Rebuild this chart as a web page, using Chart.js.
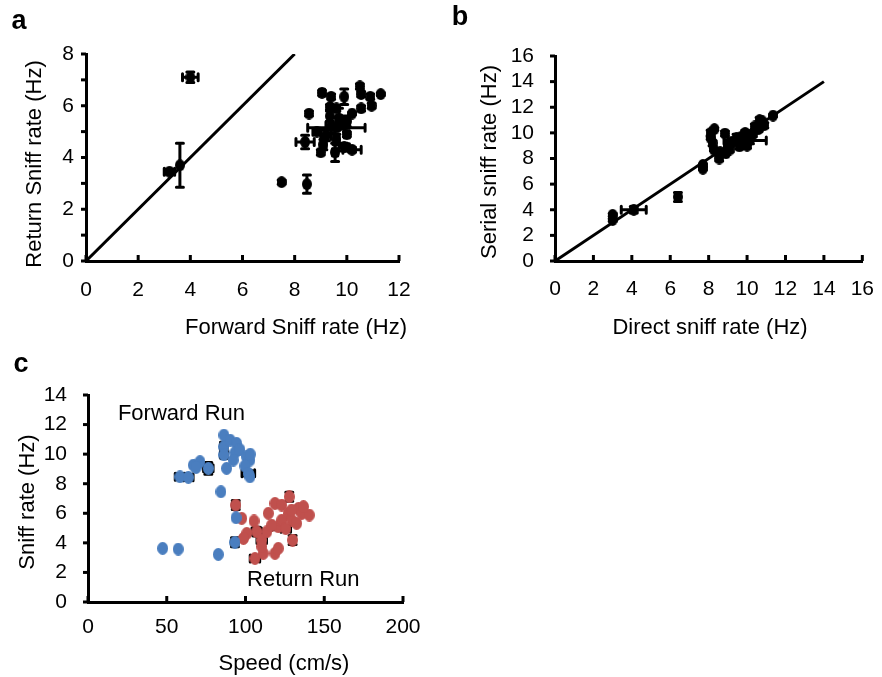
<!DOCTYPE html>
<html>
<head>
<meta charset="utf-8">
<script src="https://cdn.jsdelivr.net/npm/chart.js@4.4.1/dist/chart.umd.min.js"></script>
<style>
  body { margin: 0; background: #fff; width: 882px; height: 677px; position: relative; overflow: hidden; }
  canvas { position: absolute; }
</style>
</head>
<body>
<canvas id="chartA" width="440" height="340" style="left:0;top:0"></canvas>
<canvas id="chartB" width="442" height="340" style="left:440px;top:0"></canvas>
<canvas id="chartC" width="440" height="337" style="left:0;top:340px"></canvas>
<script>
// Panel a: forward vs return sniff rate (Hz)
const fwdRate = [4.0, 3.6, 3.2, 7.5, 8.47, 8.4, 8.55, 9.05, 9.4, 9.9, 10.5, 10.55, 10.9, 11.3, 10.95, 10.55, 10.2, 9.4, 9.35, 9.7, 9.6, 9.1, 9.55, 9.9, 9.0, 10.0, 9.2, 8.85, 9.6, 9.35, 10.2, 9.8, 9.6, 10.0];
const retRate = [7.1, 3.7, 3.45, 3.05, 2.97, 4.6, 5.7, 6.5, 6.35, 6.35, 6.75, 6.45, 6.35, 6.45, 6.0, 5.9, 5.7, 5.25, 5.6, 5.5, 5.15, 4.5, 4.2, 4.4, 4.2, 4.9, 4.85, 5.0, 5.9, 5.95, 4.3, 5.3, 4.7, 5.4];
const fwdRateErr = [0.3, 0, 0.2, 0, 0, 0.35, 0, 0.1, 0, 0, 0, 0, 0, 0, 0, 0, 0, 0.2, 0, 0.1, 1.1, 0.1, 0.1, 0.2, 0, 0.1, 0.2, 0.15, 0, 0, 0.35, 0.1, 0.1, 0.1];
const retRateErr = [0.2, 0.85, 0.1, 0.08, 0.35, 0.26, 0.1, 0.1, 0.1, 0.3, 0.1, 0.1, 0.1, 0.05, 0.1, 0.1, 0.05, 0.3, 0.2, 0.4, 0.1, 0.2, 0.35, 0.15, 0.1, 0.1, 0.2, 0.1, 0.1, 0.1, 0.1, 0.2, 0.2, 0.2];
const unityA = [0, 8];

// Panel b: direct vs serial sniff rate (Hz)
const directRate = [3.0, 3.0, 4.1, 6.4, 7.7, 7.7, 8.1, 8.1, 8.3, 8.2, 8.27, 8.55, 8.85, 9.1, 9.45, 9.6, 9.9, 10.15, 10.4, 10.65, 10.9, 11.35, 9.9, 8.6, 9.2, 9.7, 10.3, 10.6, 9.0, 10.0, 8.9, 10.8];
const serialRate = [3.6, 3.2, 4.0, 5.0, 7.5, 7.2, 10.0, 9.6, 10.3, 9.2, 8.7, 8.0, 9.95, 8.7, 9.6, 8.95, 10.0, 9.45, 10.5, 11.0, 10.6, 11.35, 9.4, 8.5, 9.3, 9.7, 9.9, 10.3, 9.0, 9.0, 8.4, 10.9];
const directErr = [0, 0, 0.65, 0, 0, 0, 0, 0, 0, 0, 0, 0, 0, 0, 0.1, 0.1, 0, 0, 0, 0, 0, 0, 1.1, 0.2, 0.2, 0, 0, 0, 0.1, 0, 0, 0];
const serialErr = [0.1, 0.1, 0.25, 0.35, 0.1, 0.1, 0.2, 0.1, 0.1, 0.2, 0.1, 0.2, 0.2, 0.2, 0.3, 0.2, 0.2, 0.3, 0.2, 0.2, 0.2, 0.1, 0.1, 0.2, 0.2, 0.2, 0.2, 0.2, 0.1, 0.2, 0.1, 0.1];
const unityB = [0, 14];

// Panel c: speed (cm/s) vs sniff rate (Hz)
const fwdSpeed = [47.4, 57.3, 82.7, 93.3, 94, 84.4, 58.4, 63.7, 66.9, 71.1, 68.6, 76.4, 88.0, 86.3, 86.3, 86.3, 90.2, 94.4, 93.3, 96.5, 100.7, 102.8, 99.6, 101.8, 102.8, 103, 92.2];
const fwdSniff = [3.63, 3.58, 3.22, 4.04, 5.7, 7.46, 8.47, 8.43, 9.26, 9.49, 9.1, 9.04, 9.04, 11.29, 10.5, 9.95, 10.95, 10.73, 10.1, 10.3, 9.83, 9.6, 9.2, 8.7, 8.47, 10.0, 9.6];
const fwdSpeedErr = [0, 0, 0, 2, 0, 0, 3, 3, 0, 0, 0, 3, 0, 0, 2, 2, 0, 0, 0, 0, 0, 0, 0, 4, 0, 0, 0];
const fwdSniffErr = [0, 0, 0, 0.3, 0, 0, 0.2, 0.2, 0, 0, 0, 0.4, 0, 0, 0.3, 0.2, 0, 0, 0, 0, 0, 0, 0, 0.2, 0, 0, 0];
const retSpeed = [93.8, 97.6, 105.4, 100.8, 98.7, 107.1, 110.3, 113.5, 106, 111.3, 110.3, 118.7, 120.8, 114.5, 118.7, 123, 127.8, 120.8, 123, 127.2, 129.3, 133.6, 135.7, 140.5, 132.5, 129.9, 116.6, 125.6, 129.3, 136.8];
const retSniff = [6.56, 5.66, 5.48, 4.64, 4.3, 4.76, 4.19, 4.75, 2.95, 3.29, 3.75, 3.29, 3.63, 6.0, 6.67, 6.56, 7.12, 5.09, 5.54, 5.99, 5.54, 6.33, 5.99, 5.88, 5.32, 4.19, 5.2, 4.96, 6.22, 6.45];
const retSpeedErr = [2, 0, 0, 0, 0, 3, 3, 0, 3, 0, 0, 0, 0, 0, 0, 0, 0, 4, 0, 0, 0, 0, 0, 0, 0, 0, 0, 3, 0, 0];
const retSniffErr = [0.3, 0, 0, 0, 0, 0.3, 0.2, 0, 0.2, 0, 0, 0, 0, 0, 0, 0, 0.3, 0.2, 0, 0, 0, 0, 0, 0, 0, 0.3, 0, 0.2, 0, 0];
const runLabels = ['Forward Run', 'Return Run'];
const runLabelX = [19, 101];
const runLabelY = [12.7, 1.5];

const FONT = '"Liberation Sans", Arial, sans-serif';

function pts(xs, ys) {
    return xs.map((v, i) => ({ x: v, y: ys[i] }));
}

// ellipse marker, slightly taller than wide like the original
function makeDot(color, w, h) {
    const c = document.createElement('canvas');
    c.width = w; c.height = h;
    const g = c.getContext('2d');
    g.fillStyle = color;
    g.beginPath();
    g.ellipse(w / 2, h / 2, w / 2, h / 2, 0, 0, Math.PI * 2);
    g.fill();
    return c;
}

// error bars with caps, drawn under the markers
const errorBars = {
    id: 'errorBars',
    beforeDatasetsDraw(chart) {
        const { ctx, scales: { x, y } } = chart;
        ctx.save();
        ctx.strokeStyle = '#000';
        ctx.lineCap = 'round';
        chart.data.datasets.forEach(ds => {
            if (!ds.errX) return;
            ds.data.forEach((p, i) => {
                const px = x.getPixelForValue(p.x);
                const py = y.getPixelForValue(p.y);
                const ex = ds.errX[i], ey = ds.errY[i];
                ctx.lineWidth = 3;
                ctx.beginPath();
                if (ex > 0) {
                    const l = x.getPixelForValue(p.x - ex), r = x.getPixelForValue(p.x + ex);
                    ctx.moveTo(l, py); ctx.lineTo(r, py);
                    ctx.moveTo(l, py - 3.5); ctx.lineTo(l, py + 3.5);
                    ctx.moveTo(r, py - 3.5); ctx.lineTo(r, py + 3.5);
                }
                if (ey > 0) {
                    const t = y.getPixelForValue(p.y + ey), b = y.getPixelForValue(p.y - ey);
                    ctx.moveTo(px, t); ctx.lineTo(px, b);
                    ctx.moveTo(px - 3.5, t); ctx.lineTo(px + 3.5, t);
                    ctx.moveTo(px - 3.5, b); ctx.lineTo(px + 3.5, b);
                }
                ctx.stroke();
            });
        });
        ctx.restore();
    }
};

// x ticks point up into the plot, y ticks point left
const tickMarks = {
    id: 'tickMarks',
    afterDraw(chart) {
        const { ctx, chartArea: a, scales: { x, y } } = chart;
        ctx.save();
        ctx.strokeStyle = '#000';
        ctx.lineWidth = 3;
        x.ticks.forEach(t => {
            const px = x.getPixelForValue(t.value);
            ctx.beginPath(); ctx.moveTo(px, a.bottom); ctx.lineTo(px, a.bottom - 6); ctx.stroke();
        });
        y.ticks.forEach(t => {
            const py = y.getPixelForValue(t.value);
            ctx.beginPath(); ctx.moveTo(a.left, py); ctx.lineTo(a.left - 5, py); ctx.stroke();
        });
        ctx.restore();
    }
};

function textPlugin(items) {
    return {
        id: 'texts',
        afterDraw(chart) {
            const ctx = chart.ctx;
            items.forEach(t => {
                ctx.save();
                ctx.font = t.font;
                ctx.fillStyle = '#000';
                ctx.textAlign = t.align || 'center';
                ctx.textBaseline = 'middle';
                let px = t.x, py = t.y;
                if (t.vx !== undefined) {
                    px = chart.scales.x.getPixelForValue(t.vx);
                    py = chart.scales.y.getPixelForValue(t.vy);
                }
                ctx.translate(px, py);
                if (t.rot) ctx.rotate(-Math.PI / 2);
                ctx.fillText(t.text, 0, 0);
                ctx.restore();
            });
        }
    };
}

function scatterOptions(o) {
    return {
        responsive: false,
        animation: false,
        devicePixelRatio: 1,
        layout: { padding: { left: 0, right: o.padRight, top: o.padTop, bottom: 0 } },
        plugins: { legend: { display: false }, tooltip: { enabled: false } },
        scales: {
            x: {
                type: 'linear', min: o.xMin, max: o.xMax,
                ticks: { stepSize: o.xStep, color: '#000', font: { family: FONT, size: 21 }, padding: o.xPad, autoSkip: false, maxRotation: 0 },
                grid: { display: false },
                border: { display: true, color: '#000', width: 3 },
                afterFit: s => { s.height = o.xHeight; }
            },
            y: {
                type: 'linear', min: o.yMin, max: o.yMax,
                ticks: {
                    stepSize: o.yStep, color: '#000', font: { family: FONT, size: 21 }, padding: o.yPad, autoSkip: false,
                    callback: v => (v % o.yLabelEvery === 0 ? v : '')
                },
                grid: { display: false },
                border: { display: true, color: '#000', width: 3 },
                afterFit: s => { s.width = o.yWidth; }
            }
        }
    };
}

const blackDot = makeDot('#000', 10, 12);

// Panel a
new Chart(document.getElementById('chartA'), {
    type: 'scatter',
    data: {
        datasets: [{
            data: pts(fwdRate, retRate),
            errX: fwdRateErr, errY: retRateErr,
            pointStyle: blackDot, pointRadius: 5
        }, {
            data: pts(unityA, unityA),
            showLine: true, borderColor: '#000', borderWidth: 3, pointRadius: 0
        }]
    },
    options: scatterOptions({ xMin: 0, xMax: 12, xStep: 2, yMin: 0, yMax: 8, yStep: 1, yLabelEvery: 2,
        xHeight: 79, yWidth: 86, padRight: 41, padTop: 54, xPad: 9, yPad: 4 }),
    plugins: [errorBars, tickMarks, textPlugin([
        { text: 'a', x: 19, y: 22, font: 'bold 27px ' + FONT },
        { text: 'Return Sniff rate (Hz)', x: 35, y: 164, rot: true, font: '22px ' + FONT },
        { text: 'Forward Sniff rate (Hz)', x: 296, y: 328, font: '22px ' + FONT }
    ])]
});

// Panel b
new Chart(document.getElementById('chartB'), {
    type: 'scatter',
    data: {
        datasets: [{
            data: pts(directRate, serialRate),
            errX: directErr, errY: serialErr,
            pointStyle: blackDot, pointRadius: 5
        }, {
            data: pts(unityB, unityB),
            showLine: true, borderColor: '#000', borderWidth: 3, pointRadius: 0
        }]
    },
    options: scatterOptions({ xMin: 0, xMax: 16, xStep: 2, yMin: 0, yMax: 16, yStep: 2, yLabelEvery: 2,
        xHeight: 79, yWidth: 115, padRight: 14, padTop: 56, xPad: 8, yPad: 13 }),
    plugins: [errorBars, tickMarks, textPlugin([
        { text: 'b', x: 20, y: 18, font: 'bold 27px ' + FONT },
        { text: 'Serial sniff rate (Hz)', x: 50, y: 162, rot: true, font: '22px ' + FONT },
        { text: 'Direct sniff rate (Hz)', x: 270, y: 328, font: '22px ' + FONT }
    ])]
});

// Panel c
new Chart(document.getElementById('chartC'), {
    type: 'scatter',
    data: {
        datasets: [{
            data: pts(fwdSpeed, fwdSniff),
            errX: fwdSpeedErr, errY: fwdSniffErr,
            pointStyle: makeDot('#4a7ebf', 11, 13), pointRadius: 5
        }, {
            data: pts(retSpeed, retSniff),
            errX: retSpeedErr, errY: retSniffErr,
            pointStyle: makeDot('#c0504d', 11, 13), pointRadius: 5
        }]
    },
    options: scatterOptions({ xMin: 0, xMax: 200, xStep: 50, yMin: 0, yMax: 14, yStep: 2, yLabelEvery: 2,
        xHeight: 75, yWidth: 88, padRight: 37, padTop: 55, xPad: 5, yPad: 13 }),
    plugins: [errorBars, tickMarks, textPlugin([
        { text: 'c', x: 21, y: 25, font: 'bold 27px ' + FONT },
        { text: 'Sniff rate (Hz)', x: 28, y: 162, rot: true, font: '22px ' + FONT },
        { text: 'Speed (cm/s)', x: 284, y: 324, font: '22px ' + FONT },
        { text: runLabels[0], vx: runLabelX[0], vy: runLabelY[0], align: 'left', font: '22px ' + FONT },
        { text: runLabels[1], vx: runLabelX[1], vy: runLabelY[1], align: 'left', font: '22px ' + FONT }
    ])]
});
</script>
</body>
</html>
